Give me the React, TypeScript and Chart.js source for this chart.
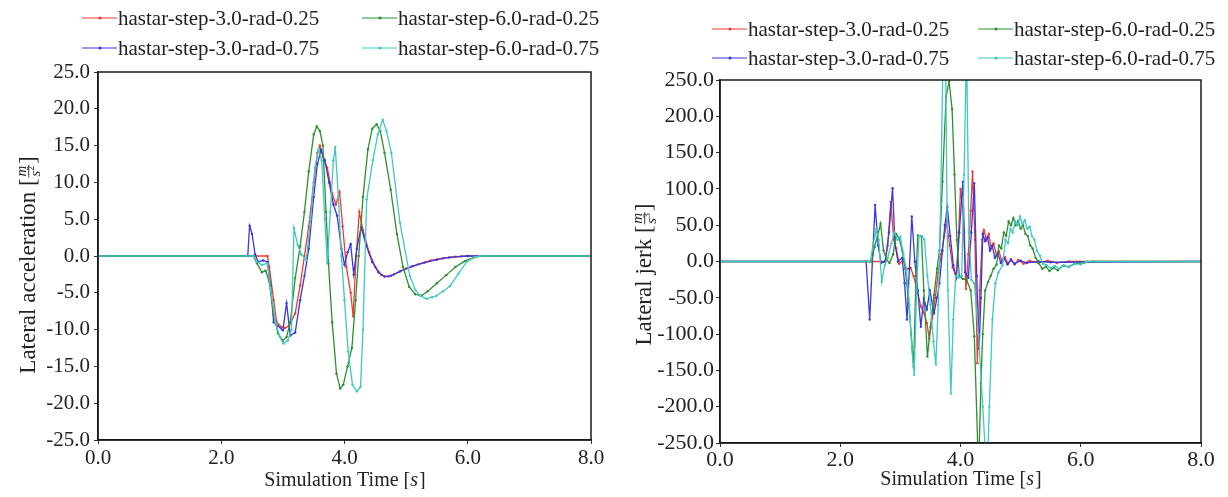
import React, { useEffect, useRef } from "react";
import { Chart, registerables } from "chart.js";

Chart.register(...registerables);

// ---- series metadata ----
const SERIES_LABELS = [
  "hastar-step-3.0-rad-0.25",
  "hastar-step-6.0-rad-0.25",
  "hastar-step-3.0-rad-0.75",
  "hastar-step-6.0-rad-0.75",
];
const SERIES_COLORS = ["#f03a32", "#2f8f2f", "#3a36e0", "#40c8c2"];
// stacking order of the lines (lower value is painted on top)
const SERIES_ORDER = [3, 1, 2, 0];

const TIME_TICKS = [0, 2, 4, 6, 8];
const ACC_TICKS = [-25, -20, -15, -10, -5, 0, 5, 10, 15, 20, 25];
const JERK_TICKS = [-250, -200, -150, -100, -50, 0, 50, 100, 150, 200, 250];

// ---- lateral acceleration [m/s^2] vs. simulation time [s] ----
const accStep3Rad025: [number, number][] = [
  [0, 0], [2.75, 0], [2.78, -1.5], [2.85, -6], [2.9, -9], [2.97, -9.6], [3.03, -9.8],
  [3.1, -9.5], [3.2, -7.8], [3.28, -4], [3.35, 0], [3.42, 4], [3.5, 10], [3.56, 14],
  [3.6, 15], [3.65, 13.5], [3.72, 12], [3.8, 8.5], [3.86, 7], [3.92, 8.7], [3.97, 4],
  [4.03, -1.5], [4.1, -5], [4.14, -8.2], [4.19, 0], [4.24, 6], [4.3, 3.5], [4.4, 0.5],
  [4.5, -1.5], [4.6, -2.6], [4.7, -2.8], [4.8, -2.5], [5.0, -1.7], [5.2, -1.1],
  [5.4, -0.6], [5.6, -0.3], [5.8, -0.1], [6.0, 0], [8, 0],
];
const accStep6Rad025: [number, number][] = [
  [0, 0], [2.52, 0], [2.58, -1], [2.66, -2.2], [2.72, -2], [2.78, -3.5], [2.85, -8],
  [2.92, -10.5], [3.0, -11.5], [3.06, -11], [3.12, -9], [3.2, -3], [3.28, 1.3],
  [3.35, 6], [3.42, 11.5], [3.5, 16.5], [3.55, 17.6], [3.6, 17], [3.65, 15], [3.7, 6],
  [3.74, -1], [3.8, -9], [3.87, -16], [3.93, -18], [3.98, -17.5], [4.05, -15],
  [4.12, -12.5], [4.18, -6], [4.23, 0], [4.3, 8], [4.38, 14.5], [4.45, 17.3],
  [4.52, 17.9], [4.58, 17], [4.65, 14], [4.75, 9], [4.85, 3], [4.95, -1.5], [5.05, -4.2],
  [5.15, -5.2], [5.25, -5.4], [5.35, -4.8], [5.5, -3.7], [5.65, -2.6], [5.8, -1.5],
  [5.95, -0.7], [6.1, -0.2], [6.2, 0], [8, 0],
];
const accStep3Rad075: [number, number][] = [
  [0, 0], [2.43, 0], [2.46, 4.1], [2.5, 3], [2.55, 0.2], [2.6, -0.8], [2.68, -0.6],
  [2.75, -0.8], [2.8, -4], [2.85, -9], [2.92, -9.5], [3.0, -10.1], [3.06, -6.4],
  [3.12, -10.8], [3.2, -10.4], [3.28, -6], [3.35, -2.7], [3.42, 1], [3.5, 8], [3.56, 12.5],
  [3.62, 14.4], [3.68, 13], [3.75, 10], [3.82, 7], [3.88, 5.5], [3.95, 1], [4.0, -1.2],
  [4.05, 0.5], [4.1, 1.6], [4.15, -2.5], [4.2, 1], [4.27, 3.9], [4.35, 1.5], [4.45, -0.8],
  [4.55, -2.2], [4.65, -2.8], [4.75, -2.7], [4.9, -2.1], [5.1, -1.4], [5.3, -0.9],
  [5.5, -0.5], [5.7, -0.2], [5.9, -0.05], [6.0, 0], [8, 0],
];
const accStep6Rad075: [number, number][] = [
  [0, 0], [2.52, 0], [2.58, -0.8], [2.66, -1.2], [2.75, -1], [2.8, -4.5], [2.88, -9],
  [2.95, -11], [3.01, -11.9], [3.08, -11.5], [3.14, -10], [3.18, 3.8], [3.24, 1.5],
  [3.3, 0.2], [3.38, -0.5], [3.45, 5], [3.52, 12], [3.58, 14.5], [3.63, 13], [3.68, 5],
  [3.72, -1], [3.77, 6], [3.82, 13], [3.85, 14.8], [3.9, 8], [3.95, 0], [4.0, -6],
  [4.06, -13], [4.13, -17.5], [4.2, -18.4], [4.26, -17.8], [4.3, -10], [4.36, 7.7],
  [4.46, 13], [4.54, 16.5], [4.62, 18.5], [4.68, 17], [4.76, 14], [4.9, 4.5], [5.06, -2.7],
  [5.15, -4.6], [5.23, -5.4], [5.33, -5.8], [5.42, -5.6], [5.49, -5.4], [5.6, -4.8],
  [5.71, -4.1], [5.85, -2.4], [5.98, -0.8], [6.1, -0.2], [6.2, 0], [8, 0],
];

// ---- lateral jerk [m/s^3] vs. simulation time [s] ----
const jerkStep3Rad025: [number, number][] = [
  [0, 0], [2.74, 0], [2.79, 22], [2.84, 82], [2.89, 30], [2.93, 18], [2.98, -3], [3.05, 2],
  [3.1, -10], [3.17, -9], [3.22, -20], [3.28, -40], [3.34, -62], [3.4, -72], [3.44, -85],
  [3.48, -106], [3.53, -78], [3.58, -50], [3.63, -15], [3.68, 10], [3.73, 35], [3.77, 55],
  [3.82, 22], [3.87, -8], [3.93, -22], [3.97, 40], [4.0, 100], [4.04, 70], [4.09, -38],
  [4.13, 10], [4.17, 70], [4.2, 124], [4.24, 30], [4.28, -140], [4.32, -40], [4.36, 30],
  [4.39, 43], [4.43, 30], [4.47, 38], [4.51, 18], [4.55, 25], [4.6, 8], [4.64, 14],
  [4.69, 0], [4.74, 6], [4.79, -3], [4.84, 3], [4.9, -4], [4.96, 2], [5.05, -3],
  [5.15, 1], [5.3, -2], [5.45, 1], [5.6, -2], [5.8, 0], [8, 0],
];
const jerkStep6Rad025: [number, number][] = [
  [0, 0], [2.52, 0], [2.57, 20], [2.62, 35], [2.67, 52], [2.72, 15], [2.77, 3], [2.82, -2],
  [2.88, 10], [2.93, 38], [2.98, 32], [3.03, 15], [3.08, -10], [3.13, -50], [3.18, -100],
  [3.22, -145], [3.26, -20], [3.29, 36], [3.35, 35], [3.39, -40], [3.45, -131], [3.5, -90],
  [3.56, -46], [3.61, -10], [3.65, 15], [3.7, 110], [3.76, 227], [3.81, 248], [3.86, 210],
  [3.9, 120], [3.94, 30], [3.98, -20], [4.04, -24], [4.1, -25], [4.17, -40], [4.23, -103],
  [4.3, -290], [4.34, -168], [4.37, -100], [4.41, -40], [4.46, -28], [4.5, -20],
  [4.55, -10], [4.6, -4], [4.64, 22], [4.68, 18], [4.72, 40], [4.76, 35], [4.8, 55],
  [4.84, 50], [4.88, 60], [4.92, 50], [4.96, 56], [5.0, 45], [5.04, 50], [5.08, 38],
  [5.12, 35], [5.16, 22], [5.2, 18], [5.25, 5], [5.3, -2], [5.36, -10], [5.42, -7],
  [5.48, -13], [5.55, -9], [5.62, -12], [5.7, -6], [5.8, -7], [5.9, -3], [6.05, -2],
  [6.2, 0], [8, 0],
];
const jerkStep3Rad075: [number, number][] = [
  [0, 0], [2.43, 0], [2.49, -80], [2.54, 10], [2.58, 78], [2.63, 22], [2.68, -2], [2.75, 0],
  [2.81, 40], [2.87, 101], [2.91, 25], [2.96, 0], [3.03, 5], [3.07, -30], [3.11, -80],
  [3.15, -10], [3.19, 62], [3.24, 0], [3.29, -40], [3.34, -90], [3.39, -51], [3.44, -66],
  [3.49, -40], [3.56, -71], [3.61, -50], [3.65, -30], [3.7, 15], [3.74, 50], [3.78, 75],
  [3.83, 35], [3.88, -5], [3.93, -22], [3.98, 40], [4.04, 110], [4.08, -15], [4.13, -22],
  [4.18, 40], [4.23, 108], [4.27, -20], [4.31, -120], [4.34, -50], [4.37, 38], [4.41, 28],
  [4.45, 33], [4.49, 15], [4.53, 22], [4.57, 5], [4.62, 12], [4.67, -2], [4.72, 5],
  [4.78, -4], [4.84, 2], [4.9, -3], [5.0, 1], [5.1, -2], [5.3, 0], [5.5, -1], [8, 0],
];
const jerkStep6Rad075: [number, number][] = [
  [0, 0], [2.5, 0], [2.55, 25], [2.6, 45], [2.64, 30], [2.69, -28], [2.74, -5], [2.79, 5],
  [2.85, 25], [2.9, 40], [2.95, 30], [3.0, 34], [3.05, 10], [3.1, -12], [3.15, -60],
  [3.19, -120], [3.23, -156], [3.27, -40], [3.31, 35], [3.36, 35], [3.4, 30], [3.45, -20],
  [3.5, -60], [3.55, -110], [3.59, -142], [3.63, -60], [3.67, 80], [3.71, 290], [3.75, 290],
  [3.79, -40], [3.84, -182], [3.88, -80], [3.92, -20], [3.97, -22], [4.02, -20], [4.06, 120],
  [4.1, 300], [4.14, 40], [4.18, -25], [4.23, -30], [4.3, -100], [4.37, -200], [4.44, -300],
  [4.48, -200], [4.53, -80], [4.58, -30], [4.63, -15], [4.7, -5], [4.75, 30], [4.79, 25],
  [4.83, 45], [4.87, 40], [4.91, 55], [4.95, 50], [4.99, 62], [5.03, 52], [5.07, 57],
  [5.11, 45], [5.15, 48], [5.19, 35], [5.23, 30], [5.27, 15], [5.32, 8], [5.37, -3],
  [5.43, -5], [5.5, -9], [5.57, -6], [5.64, -10], [5.72, -5], [5.8, -8], [5.9, -3],
  [6.0, -4], [6.1, 0], [8, 0],
];

const FONT_FAMILY = '"Liberation Serif", "Times New Roman", serif';
const TEXT_COLOR = "#222";

type PanelSpec = {
  width: number;
  height: number;
  left: number;
  padTop: number;
  padRight: number;
  yAxisWidth: number;
  xAxisHeight: number;
  yTicks: number[];
  series: [number, number][][];
  yTitle: string;
  yExp: string;
  yTitleX: number;
  yTitleDy: number;
  yTitleSize: number;
  xTitleY: number;
  legendRows: number[];
  legendCols: number[];
  legendSize: number;
  tickSize: number;
  xTickPad: number;
  yTickPad: number;
};

function drawYTitle(
  ctx: CanvasRenderingContext2D,
  cx: number,
  cy: number,
  main: string,
  exp: string,
  size: number
) {
  ctx.save();
  ctx.translate(cx, cy);
  ctx.rotate(-Math.PI / 2);
  ctx.fillStyle = TEXT_COLOR;
  ctx.strokeStyle = TEXT_COLOR;
  ctx.textBaseline = "alphabetic";
  ctx.textAlign = "left";
  const k = size / 20;
  const big = `${size}px ${FONT_FAMILY}`;
  const small = `italic ${Math.round(13 * k)}px ${FONT_FAMILY}`;
  const tiny = `${Math.round(9 * k)}px ${FONT_FAMILY}`;
  ctx.font = big;
  const head = main + " [";
  const wHead = ctx.measureText(head).width;
  ctx.font = small;
  const wm = ctx.measureText("m").width;
  const ws = ctx.measureText("s").width;
  ctx.font = tiny;
  const we = ctx.measureText(exp).width;
  const wFrac = Math.max(wm, ws + we) + 3 * k;
  ctx.font = big;
  const wClose = ctx.measureText("]").width;
  const total = wHead + wFrac + wClose;
  const base = 7 * k;
  let x = -total / 2;
  ctx.fillText(head, x, base);
  x += wHead;
  ctx.font = small;
  ctx.fillText("m", x + (wFrac - wm) / 2, -1 * k);
  ctx.lineWidth = 0.9;
  ctx.beginPath();
  ctx.moveTo(x + 1, 1.5 * k);
  ctx.lineTo(x + wFrac - 1, 1.5 * k);
  ctx.stroke();
  const sx = x + (wFrac - ws - we) / 2;
  ctx.fillText("s", sx, 11.5 * k);
  ctx.font = tiny;
  ctx.fillText(exp, sx + ws, 6.5 * k);
  x += wFrac;
  ctx.font = big;
  ctx.fillText("]", x, base);
  ctx.restore();
}

function drawXTitle(ctx: CanvasRenderingContext2D, cx: number, cy: number) {
  ctx.save();
  ctx.fillStyle = TEXT_COLOR;
  ctx.textBaseline = "middle";
  ctx.textAlign = "left";
  const big = `20px ${FONT_FAMILY}`;
  const ital = `italic 20px ${FONT_FAMILY}`;
  ctx.font = big;
  const a = "Simulation Time [";
  const wa = ctx.measureText(a).width;
  const wc = ctx.measureText("]").width;
  ctx.font = ital;
  const ws = ctx.measureText("s").width;
  let x = cx - (wa + ws + wc) / 2;
  ctx.font = big;
  ctx.fillText(a, x, cy);
  x += wa;
  ctx.font = ital;
  ctx.fillText("s", x, cy);
  x += ws + 1;
  ctx.font = big;
  ctx.fillText("]", x, cy);
  ctx.restore();
}

function makeDecorPlugin(spec: PanelSpec) {
  return {
    id: "panelDecor",
    afterDraw(chart: any) {
      const { ctx, chartArea } = chart;
      const { left, right, top, bottom } = chartArea;
      ctx.save();
      // frame around the plotting area
      ctx.strokeStyle = "#1a1a1a";
      ctx.lineWidth = 1.5;
      ctx.strokeRect(left, top, right - left, bottom - top);

      // legend: two columns, two rows
      ctx.font = `${spec.legendSize}px ${FONT_FAMILY}`;
      ctx.textBaseline = "middle";
      ctx.textAlign = "left";
      chart.data.datasets.forEach((ds: any, i: number) => {
        const col = i % 2;
        const row = Math.floor(i / 2);
        const mx = spec.legendCols[col];
        const my = spec.legendRows[row];
        ctx.strokeStyle = ds.borderColor;
        ctx.lineWidth = 1.2;
        ctx.beginPath();
        ctx.moveTo(mx, my);
        ctx.lineTo(mx + 35, my);
        ctx.stroke();
        ctx.fillStyle = ds.borderColor;
        ctx.beginPath();
        ctx.arc(mx + 18, my, 1.6, 0, Math.PI * 2);
        ctx.fill();
        ctx.fillStyle = TEXT_COLOR;
        ctx.fillText(ds.label, mx + 36, my + 1);
      });
      ctx.restore();

      drawYTitle(
        ctx,
        spec.yTitleX,
        (top + bottom) / 2 + spec.yTitleDy,
        spec.yTitle,
        spec.yExp,
        spec.yTitleSize
      );
      drawXTitle(ctx, (left + right) / 2, spec.xTitleY);
    },
  };
}

function makeConfig(spec: PanelSpec): any {
  const tickFont = { family: FONT_FAMILY, size: spec.tickSize };
  const grid = {
    display: true,
    drawOnChartArea: false,
    drawTicks: true,
    tickLength: 4,
    color: "#333",
    lineWidth: 1,
  };
  const border = { display: true, color: "#1a1a1a", width: 1.5 };
  return {
    type: "line",
    data: {
      datasets: spec.series.map((pts, i) => ({
        label: SERIES_LABELS[i],
        order: SERIES_ORDER[i],
        data: pts.map(([x, y]) => ({ x, y })),
        borderColor: SERIES_COLORS[i],
        backgroundColor: SERIES_COLORS[i],
        borderWidth: 1.3,
        pointRadius: 1.2,
        pointBorderWidth: 0,
        pointHoverRadius: 0,
        tension: 0,
        fill: false,
      })),
    },
    options: {
      animation: false,
      responsive: false,
      events: [],
      layout: { padding: { top: spec.padTop, right: spec.padRight, left: 0, bottom: 0 } },
      plugins: { legend: { display: false }, tooltip: { enabled: false }, title: { display: false } },
      scales: {
        x: {
          type: "linear",
          min: 0,
          max: 8,
          afterBuildTicks: (s: any) => {
            s.ticks = TIME_TICKS.map((v) => ({ value: v }));
          },
          afterFit: (s: any) => {
            s.height = spec.xAxisHeight;
          },
          ticks: {
            autoSkip: false,
            maxRotation: 0,
            font: tickFont,
            color: TEXT_COLOR,
            padding: spec.xTickPad,
            callback: (v: any) => Number(v).toFixed(1),
          },
          grid,
          border,
        },
        y: {
          type: "linear",
          min: spec.yTicks[0],
          max: spec.yTicks[spec.yTicks.length - 1],
          afterBuildTicks: (s: any) => {
            s.ticks = spec.yTicks.map((v) => ({ value: v }));
          },
          afterFit: (s: any) => {
            s.width = spec.yAxisWidth;
          },
          ticks: {
            autoSkip: false,
            font: tickFont,
            color: TEXT_COLOR,
            padding: spec.yTickPad,
            callback: (v: any) => Number(v).toFixed(1),
          },
          grid,
          border,
        },
      },
    },
    plugins: [makeDecorPlugin(spec)],
  };
}

const accPanel: PanelSpec = {
  width: 600,
  height: 481,
  left: 0,
  padTop: 64,
  padRight: 17,
  yAxisWidth: 90,
  xAxisHeight: 49,
  yTicks: ACC_TICKS,
  series: [accStep3Rad025, accStep6Rad025, accStep3Rad075, accStep6Rad075],
  yTitle: "Lateral acceleration",
  yExp: "2",
  yTitleX: 19,
  yTitleDy: 9,
  yTitleSize: 23,
  xTitleY: 473,
  legendRows: [10, 40],
  legendCols: [74, 354],
  legendSize: 21,
  tickSize: 21,
  xTickPad: 2,
  yTickPad: 4,
};

const jerkPanel: PanelSpec = {
  width: 608,
  height: 481,
  left: 604,
  padTop: 72,
  padRight: 19,
  yAxisWidth: 108,
  xAxisHeight: 46,
  yTicks: JERK_TICKS,
  series: [jerkStep3Rad025, jerkStep6Rad025, jerkStep3Rad075, jerkStep6Rad075],
  yTitle: "Lateral jerk",
  yExp: "3",
  yTitleX: 31,
  yTitleDy: 13,
  yTitleSize: 23,
  xTitleY: 472,
  legendRows: [21, 50],
  legendCols: [100, 366],
  legendSize: 21,
  tickSize: 22,
  xTickPad: 0,
  yTickPad: 2,
};

function Panel({ spec }: { spec: PanelSpec }) {
  const ref = useRef<HTMLCanvasElement | null>(null);
  useEffect(() => {
    if (!ref.current) return;
    const chart = new Chart(ref.current, makeConfig(spec));
    return () => chart.destroy();
  }, [spec]);
  return (
    <canvas
      ref={ref}
      width={spec.width}
      height={spec.height}
      style={{
        position: "absolute",
        left: spec.left,
        top: 0,
        width: spec.width,
        height: spec.height,
      }}
    />
  );
}

export default function App() {
  return (
    <div style={{ position: "relative", width: 1212, height: 481 }}>
      <Panel spec={accPanel} />
      <Panel spec={jerkPanel} />
    </div>
  );
}
